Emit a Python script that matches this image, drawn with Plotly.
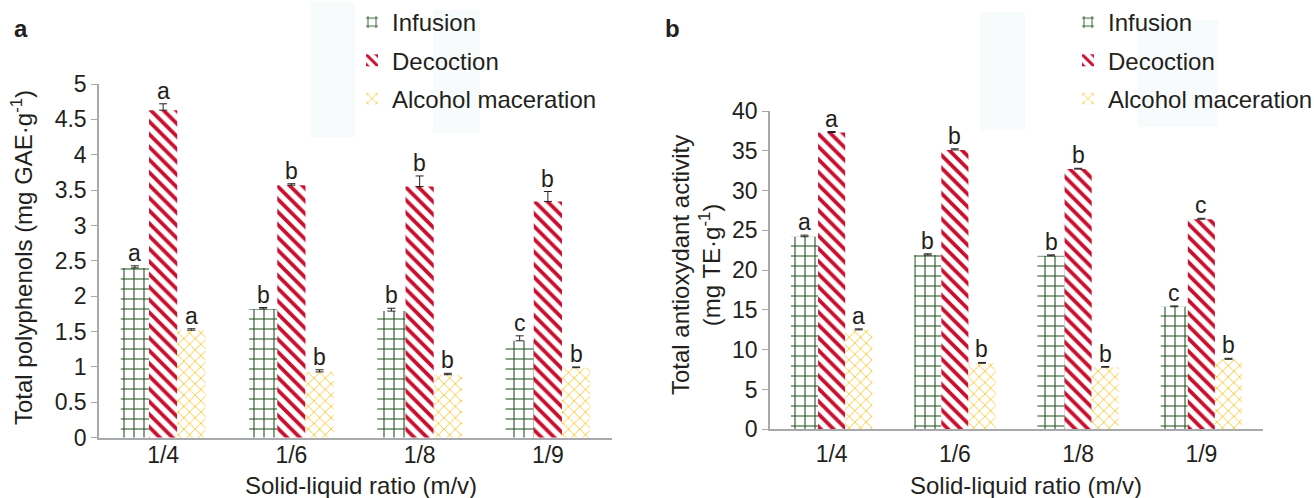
import plotly.graph_objects as go

ratios = ["1/4", "1/6", "1/8", "1/9"]
series = ["Infusion", "Decoction", "Alcohol maceration"]

# Panel a: total polyphenols (mg GAE/g)
poly_infusion = [2.40, 1.82, 1.79, 1.37]
poly_decoction = [4.63, 3.57, 3.55, 3.34]
poly_alcohol = [1.52, 0.93, 0.89, 0.99]
poly_inf_err = [0.03, 0.02, 0.04, 0.07]
poly_dec_err = [0.09, 0.02, 0.15, 0.14]
poly_alc_err = [0.02, 0.03, 0.02, 0.01]
poly_inf_let = ["a", "b", "b", "c"]
poly_dec_let = ["a", "b", "b", "b"]
poly_alc_let = ["a", "b", "b", "b"]

# Panel b: total antioxidant activity (mg TE/g)
anti_infusion = [24.2, 21.9, 21.8, 15.4]
anti_decoction = [37.3, 35.1, 32.7, 26.4]
anti_alcohol = [12.5, 8.3, 7.8, 8.8]
anti_inf_err = [0.2, 0.15, 0.12, 0.1]
anti_dec_err = [0.12, 0.15, 0.1, 0.12]
anti_alc_err = [0.12, 0.1, 0.08, 0.12]
anti_inf_let = ["a", "b", "b", "c"]
anti_dec_let = ["a", "b", "b", "c"]
anti_alc_let = ["a", "b", "b", "b"]

yticks_a = [0, 0.5, 1, 1.5, 2, 2.5, 3, 3.5, 4, 4.5, 5]
yticks_b = [0, 5, 10, 15, 20, 25, 30, 35, 40]

FONT = "Liberation Sans, Arial, Helvetica, sans-serif"
TXT = "#231f20"
FS = 23
styles = [
    dict(shape="+", fgcolor="#1a4d1a", bgcolor="white", fgopacity=1, size=10, solidity=0.2),
    dict(shape="\\", fgcolor="#c8102e", bgcolor="white", fgopacity=1, size=9, solidity=0.42),
    dict(shape="x", fgcolor="#ffc425", bgcolor="white", fgopacity=1, size=8, solidity=0.2),
]
W = 0.22
offs = [-0.33, -0.11, 0.11]

fig = go.Figure()
panels = [
    ("x", "y", "legend", [poly_infusion, poly_decoction, poly_alcohol],
     [poly_inf_err, poly_dec_err, poly_alc_err], [poly_inf_let, poly_dec_let, poly_alc_let]),
    ("x2", "y2", "legend2", [anti_infusion, anti_decoction, anti_alcohol],
     [anti_inf_err, anti_dec_err, anti_alc_err], [anti_inf_let, anti_dec_let, anti_alc_let]),
]
for xa, ya, lg, vals, errs, lets in panels:
    for k in range(3):
        fig.add_trace(go.Bar(
            x=ratios, y=vals[k], name=series[k], xaxis=xa, yaxis=ya,
            width=W, offset=offs[k], legend=lg, legendgroup=lg + str(k),
            marker=dict(color="white", pattern=styles[k], line=dict(width=0)),
            error_y=dict(type="data", array=errs[k], arrayminus=[0] * 4, symmetric=False,
                         color="#231f20", thickness=1, width=4),
        ))
        for i in range(4):
            fig.add_annotation(
                x=i + offs[k] + W / 2, y=vals[k][i] + errs[k][i], xref=xa, yref=ya,
                text=lets[k][i], showarrow=False, xanchor="center", yanchor="bottom", yshift=-2,
                font=dict(size=FS, color=TXT, family=FONT),
            )

axis_common = dict(showline=True, linecolor="#a7a9ac", linewidth=1.5, showgrid=False,
                   zeroline=False, automargin=False,
                   tickfont=dict(size=FS, color=TXT, family=FONT))
fig.update_layout(
    width=1314, height=498, margin=dict(l=0, r=0, t=0, b=0, autoexpand=False),
    paper_bgcolor="white", plot_bgcolor="rgba(0,0,0,0)",
    barmode="group", font=dict(family=FONT, color=TXT, size=FS),
    xaxis=dict(domain=[99 / 1314, 612 / 1314], range=[-0.5, 3.5], ticks="",
               ticklabelstandoff=-4, **axis_common),
    yaxis=dict(domain=[(498 - 437.7) / 498, (498 - 84) / 498], range=[0, 5],
               tickvals=yticks_a, ticktext=[f"{v:g}" for v in yticks_a],
               ticks="outside", ticklen=6, tickcolor="#a7a9ac", **axis_common),
    xaxis2=dict(domain=[770 / 1314, 1263 / 1314], range=[-0.5, 3.5], ticks="",
                ticklabelstandoff=3, anchor="y2", **axis_common),
    yaxis2=dict(domain=[(498 - 429.3) / 498, (498 - 111) / 498], range=[0, 40],
                tickvals=yticks_b, ticks="outside", ticklen=6, tickcolor="#a7a9ac",
                anchor="x2", **axis_common),
    legend=dict(x=352 / 1314, y=1.0, xanchor="left", yanchor="top", traceorder="grouped",
                tracegroupgap=4, bgcolor="rgba(0,0,0,0)",
                font=dict(size=24, color=TXT, family=FONT)),
    legend2=dict(x=1068 / 1314, y=1.0, xanchor="left", yanchor="top", traceorder="grouped",
                 tracegroupgap=4, bgcolor="rgba(0,0,0,0)",
                 font=dict(size=24, color=TXT, family=FONT)),
)

# faint background artefacts
for x0, x1, y0, y1 in [(310, 355, 2, 137), (433, 480, 10, 133), (980, 1025, 12, 130),
                       (1138, 1218, 20, 127)]:
    fig.add_shape(type="rect", xref="paper", yref="paper", x0=x0 / 1314, x1=x1 / 1314,
                  y0=1 - y1 / 498, y1=1 - y0 / 498, fillcolor="#f7fbfc",
                  line=dict(width=0), layer="below")


def label(x, y, text, size=24, angle=0):
    fig.add_annotation(x=x / 1314, y=1 - y / 498, xref="paper", yref="paper", text=text,
                       showarrow=False, xanchor="center", yanchor="middle", textangle=angle,
                       font=dict(size=size, color=TXT, family=FONT))


label(21, 28, "<b>a</b>", 24)
label(672, 28, "<b>b</b>", 24)
label(22, 258, "Total polyphenols (mg GAE·g<sup>-1</sup>)", 24, -90)
label(696, 265, "Total antioxydant activity<br>(mg TE·g<sup>-1</sup>)", 24, -90)
label(361, 485, "Solid-liquid ratio (m/v)", 24)
label(1026, 485, "Solid-liquid ratio (m/v)", 24)

fig.write_html("out.html")
